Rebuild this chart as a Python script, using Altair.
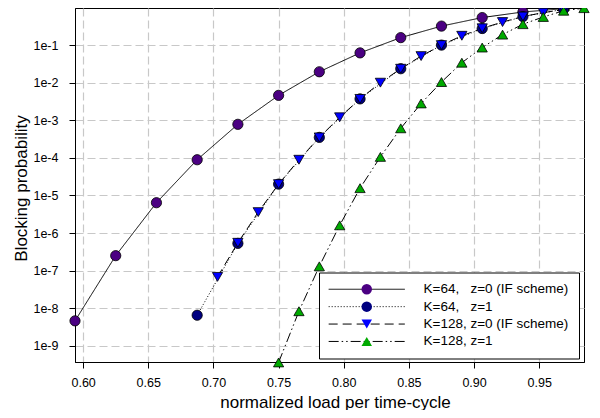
import altair as alt
import pandas as pd

series = [
    "K=64,\u00a0\u00a0\u00a0z=0 (IF scheme)",
    "K=64,\u00a0\u00a0\u00a0z=1",
    "K=128, z=0 (IF scheme)",
    "K=128, z=1",
]
marker_keys = ["m1", "m2", "m3", "m4"]
fills = ["#4B0082", "#000080", "#0000FF", "#00AA00"]
shapes = ["circle", "circle", "triangle-down", "triangle-up"]
dashes = [[1, 0], [1, 2], [9, 5], [10, 3, 1.5, 3, 1.5, 3]]

# K=64, z=0
x_s1 = [0.59375, 0.625, 0.65625, 0.6875, 0.71875, 0.75, 0.78125, 0.8125,
        0.84375, 0.875, 0.90625, 0.9375, 0.96875]
y_s1 = [4.6e-9, 2.5e-7, 6.4e-6, 8.9e-5, 7.8e-4, 4.6e-3, 1.95e-2, 6.2e-2,
        0.158, 0.32, 0.54, 0.76, 0.93]
# K=64, z=1
x_s2 = [0.6875, 0.71875, 0.75, 0.78125, 0.8125, 0.84375, 0.875, 0.90625,
        0.9375, 0.96875]
y_s2 = [6.5e-9, 5.3e-7, 2.0e-5, 3.5e-4, 3.7e-3, 2.35e-2, 0.1, 0.276,
        0.575, 0.9]
# K=128, z=0
x_s3 = [0.703125, 0.71875, 0.734375, 0.75, 0.765625, 0.78125, 0.796875,
        0.8125, 0.828125, 0.84375, 0.859375, 0.875, 0.890625, 0.90625,
        0.921875, 0.9375, 0.953125, 0.96875]
y_s3 = [6.8e-8, 5.5e-7, 3.6e-6, 2.0e-5, 8.9e-5, 3.5e-4, 1.2e-3,
        3.7e-3, 1.0e-2, 2.35e-2, 5.1e-2, 0.1, 0.177, 0.28,
        0.41, 0.575, 0.73, 0.88]
# K=128, z=1
x_s4 = [0.75, 0.765625, 0.78125, 0.796875, 0.8125, 0.828125, 0.84375,
        0.859375, 0.875, 0.890625, 0.90625, 0.921875, 0.9375, 0.953125,
        0.96875, 0.984375]
y_s4 = [3.6e-10, 8.3e-9, 1.3e-7, 1.6e-6, 1.56e-5, 1.06e-4, 6.1e-4,
        2.8e-3, 1.04e-2, 3.4e-2, 8.6e-2, 0.19, 0.36, 0.56,
        0.82, 0.96]

x_ticks = [0.60, 0.65, 0.70, 0.75, 0.80, 0.85, 0.90, 0.95]
y_ticks = [1e-9, 1e-8, 1e-7, 1e-6, 1e-5, 1e-4, 1e-3, 1e-2, 1e-1]

rows = []
for name, key, xs, ys in zip(series, marker_keys, [x_s1, x_s2, x_s3, x_s4],
                             [y_s1, y_s2, y_s3, y_s4]):
    for xv, yv in zip(xs, ys):
        rows.append({"series": name, "marker": key, "x": xv, "y": yv})
df = pd.DataFrame(rows)

FONT = "Liberation Sans"

x_enc = alt.X(
    "x:Q",
    scale=alt.Scale(domain=[0.59375, 0.984375], nice=False, zero=False),
    axis=alt.Axis(values=x_ticks, format=".2f", title="normalized load per time-cycle",
                  titleX=260, titleY=45, titleBaseline="alphabetic", labelPadding=8),
)
y_enc = alt.Y(
    "y:Q",
    scale=alt.Scale(type="log", domain=[3.7e-10, 0.97], nice=False),
    axis=alt.Axis(values=y_ticks, labelExpr="'1e-' + round(-log(datum.value)/LN10)",
                  title="Blocking probability", titleX=-54, titleY=180,
                  titleAngle=270, titleBaseline="middle", labelPadding=11),
)

common_leg = dict(
    title=None, orient="none", legendX=244, legendY=264.5, padding=10,
    rowPadding=2.4, labelFontSize=13.5, labelFont=FONT, labelColor="black",
    labelOffset=50, labelLimit=400, symbolOffset=31,
    symbolStrokeColor="black", symbolStrokeWidth=1,
)

legA = alt.Legend(symbolType="M-10,0H10", symbolSize=58, fillColor="white",
                  strokeColor="black", cornerRadius=0, **common_leg)
legB = alt.Legend(symbolSize=110, labelOpacity=0, labelExpr="''", **common_leg)

lines = alt.Chart(df).mark_line(color="black", strokeWidth=1).encode(
    x=x_enc,
    y=y_enc,
    strokeDash=alt.StrokeDash("series:N", scale=alt.Scale(domain=series, range=dashes),
                              legend=legA),
)

points = alt.Chart(df).mark_point(filled=True, size=105, stroke="black",
                                  strokeWidth=0.8, opacity=1).encode(
    x=x_enc,
    y=y_enc,
    shape=alt.Shape("marker:N", scale=alt.Scale(domain=marker_keys, range=shapes), legend=legB),
    fill=alt.Fill("marker:N", scale=alt.Scale(domain=marker_keys, range=fills), legend=legB),
)

chart = alt.layer(lines, points).properties(
    width=509, height=354,
    autosize=alt.AutoSizeParams(type="none"),
    padding={"left": 67, "top": 0, "right": 8, "bottom": 48},
).configure_view(
    stroke="black", strokeWidth=1,
).configure_axis(
    domainColor="black", tickColor="black", tickSize=6, labelColor="black",
    labelFont=FONT, labelFontSize=12.5, titleFont=FONT, titleFontSize=17,
    titleFontWeight="normal", titleColor="black",
    gridColor="#c8c8c8", gridDash=[8, 4], gridWidth=1.2,
)

chart.save("out.html", embed_options={"renderer": "svg", "actions": False})
